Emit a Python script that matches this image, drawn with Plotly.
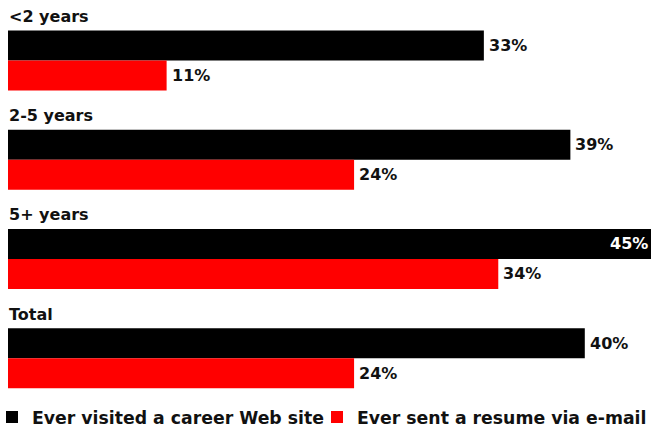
import plotly.graph_objects as go

categories = ["<2 years", "2-5 years", "5+ years", "Total"]
visited = [33, 39, 45, 40]
sent = [11, 24, 34, 24]
series_names = ["Ever visited a career Web site", "Ever sent a resume via e-mail"]
colors = ["#000000", "#ff0000"]

FONT = "DejaVu Sans"
TXT = "#111111"
PX_PER_PCT = 14.42
XMIN = -8 / PX_PER_PCT
XMAX = (651 - 8) / PX_PER_PCT

fig = go.Figure()
for name, vals, col, lg in zip(series_names, [visited, sent], colors, ["legend", "legend2"]):
    fig.add_trace(go.Bar(
        y=categories, x=vals, name=name, orientation="h",
        marker=dict(color=col, line=dict(width=0)),
        hoverinfo="skip", legend=lg,
    ))

annotations = []
for cat in categories:
    annotations.append(dict(
        x=0, y=cat, xref="x", yref="y", text="<b>%s</b>" % cat,
        showarrow=False, xanchor="left", yanchor="middle", yshift=44, xshift=-1,
        font=dict(family=FONT, size=16, color=TXT),
    ))
for vals, shift in [(visited, 15), (sent, -15)]:
    for cat, v in zip(categories, vals):
        if v > XMAX:
            annotations.append(dict(
                x=XMAX, y=cat, xref="x", yref="y", text="<b>%d%%</b>" % v,
                showarrow=False, xanchor="right", yanchor="middle", yshift=shift, xshift=-1,
                font=dict(family=FONT, size=16, color="#ffffff"),
            ))
        else:
            annotations.append(dict(
                x=v, y=cat, xref="x", yref="y", text="<b>%d%%</b>" % v,
                showarrow=False, xanchor="left", yanchor="middle", yshift=shift, xshift=3,
                font=dict(family=FONT, size=16, color=TXT),
            ))

legend_font = dict(family=FONT, size=17.3, color=TXT, weight="bold")
fig.update_layout(
    width=651, height=431,
    margin=dict(l=0, r=0, t=11, b=0, autoexpand=False),
    paper_bgcolor="white", plot_bgcolor="white",
    barmode="group", bargap=0.395, bargroupgap=0,
    xaxis=dict(range=[XMIN, XMAX], visible=False, fixedrange=True),
    yaxis=dict(range=[3.734, -0.5], visible=False, fixedrange=True),
    showlegend=True,
    legend=dict(orientation="h", x=-8 / 651, xanchor="left", y=0.033, yanchor="middle",
                font=legend_font, bgcolor="rgba(0,0,0,0)"),
    legend2=dict(orientation="h", x=317 / 651, xanchor="left", y=0.033, yanchor="middle",
                 font=legend_font, bgcolor="rgba(0,0,0,0)"),
    annotations=annotations,
)

fig.write_html("out.html")
